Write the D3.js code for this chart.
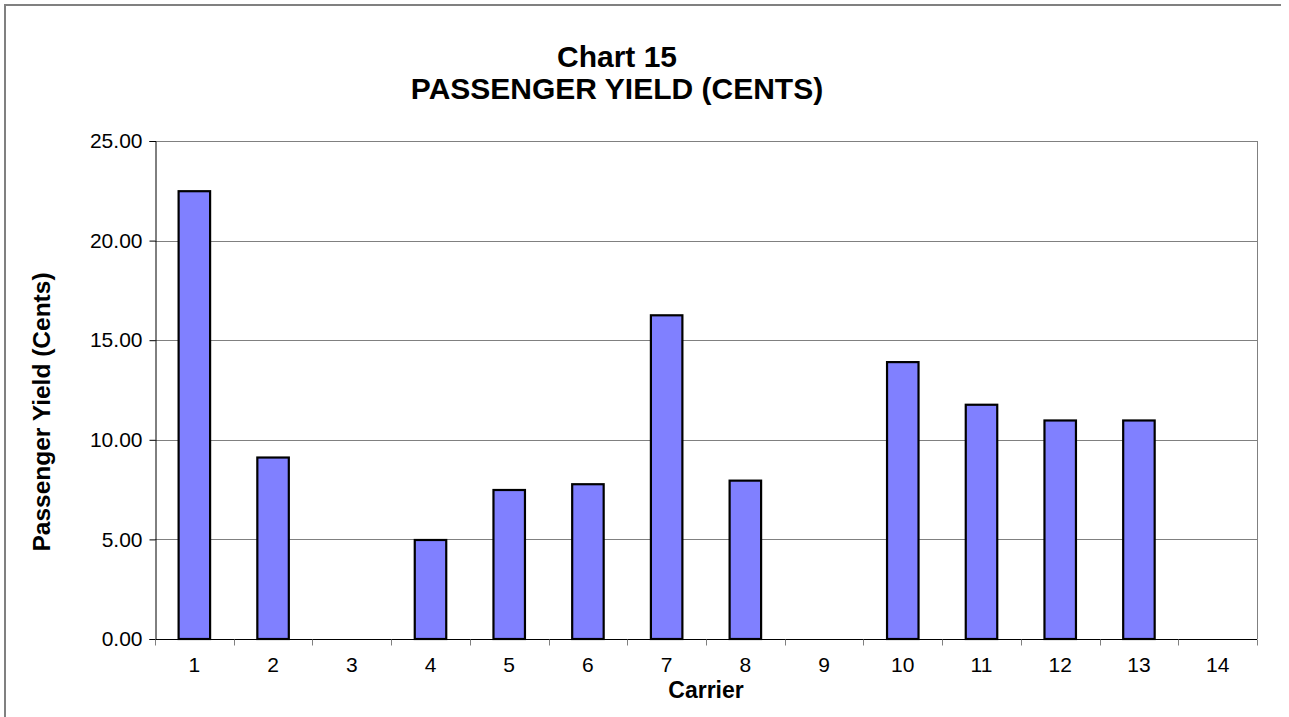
<!DOCTYPE html>
<html>
<head>
<meta charset="utf-8">
<script src="https://cdn.jsdelivr.net/npm/d3@7"></script>
<style>
  html, body { margin: 0; padding: 0; background: #fff; }
  svg { display: block; font-family: "Liberation Sans", Arial, sans-serif; }
</style>
</head>
<body>
<svg id="chart" width="1289" height="717"></svg>
<script>
const carriers = ["1","2","3","4","5","6","7","8","9","10","11","12","13","14"];
const yieldValues = [22.48, 9.11, null, 4.97, 7.48, 7.77, 16.25, 7.95, null, 13.90, 11.76, 10.97, 10.97, null];
const yTicks = [0, 5, 10, 15, 20, 25];
const titleLines = ["Chart 15", "PASSENGER YIELD (CENTS)"];

const svg = d3.select("#chart");
const W = 1289, H = 717;
const plot = { left: 155, right: 1257, top: 141, bottom: 639 };

// outer frame (top and left edges visible)
svg.append("line").attr("x1", 4).attr("y1", 5).attr("x2", 1281).attr("y2", 5)
  .attr("stroke", "#808080").attr("stroke-width", 2);
svg.append("line").attr("x1", 5).attr("y1", 4).attr("x2", 5).attr("y2", H)
  .attr("stroke", "#808080").attr("stroke-width", 2);

const xb = d3.scaleBand().domain(carriers).range([plot.left, plot.right]);
const y = d3.scaleLinear().domain([0, 25]).range([plot.bottom, plot.top]);

// gridlines
svg.append("g").selectAll("line").data(yTicks.filter(d => d > 0)).join("line")
  .attr("x1", plot.left).attr("x2", plot.right)
  .attr("y1", d => Math.round(y(d)) + 0.5).attr("y2", d => Math.round(y(d)) + 0.5)
  .attr("stroke", "#808080").attr("stroke-width", 1);
// right edge of plot
svg.append("line").attr("x1", plot.right + 0.5).attr("x2", plot.right + 0.5)
  .attr("y1", plot.top).attr("y2", plot.bottom).attr("stroke", "#808080");

// bars
const barW = xb.bandwidth() * 0.4;
svg.append("g").selectAll("rect")
  .data(carriers.map((c, i) => ({ c, v: yieldValues[i] })).filter(d => d.v != null))
  .join("rect")
  .attr("x", d => xb(d.c) + (xb.bandwidth() - barW) / 2)
  .attr("width", barW)
  .attr("y", d => y(d.v))
  .attr("height", d => y(0) - y(d.v))
  .attr("fill", "#8080FF").attr("stroke", "#000").attr("stroke-width", 2.2);

// y axis
const yAxis = d3.axisLeft(y).tickValues(yTicks).tickFormat(d3.format(".2f")).tickSize(6).tickPadding(7);
const gy = svg.append("g").attr("transform", `translate(${plot.left + 0.5},0)`).call(yAxis);
gy.select(".domain").attr("stroke", "#000");
gy.selectAll(".tick line").attr("stroke", "#000");
gy.selectAll("text").attr("font-size", 21).attr("fill", "#000")
  .attr("font-family", "'Liberation Sans', Arial, sans-serif");

// x axis
const gx = svg.append("g").attr("transform", `translate(0,${plot.bottom + 0.5})`);
gx.append("line").attr("x1", plot.left).attr("x2", plot.right).attr("stroke", "#000");
const bounds = carriers.map(c => xb(c)).concat([plot.right]);
gx.selectAll("line.tk").data(bounds).join("line").attr("class", "tk")
  .attr("x1", d => Math.round(d) + 0.5).attr("x2", d => Math.round(d) + 0.5)
  .attr("y1", 0).attr("y2", 6).attr("stroke", "#808080");
gx.selectAll("text").data(carriers).join("text")
  .attr("x", d => xb(d) + xb.bandwidth() / 2).attr("y", 32)
  .attr("text-anchor", "middle").attr("font-size", 21).text(d => d);

// axis titles
svg.append("text").attr("x", (plot.left + plot.right) / 2).attr("y", 698)
  .attr("text-anchor", "middle").attr("font-size", 23).attr("font-weight", "bold").text("Carrier");
svg.append("text").attr("transform", `translate(50,412) rotate(-90)`)
  .attr("text-anchor", "middle").attr("font-size", 24.5).attr("font-weight", "bold").text("Passenger Yield (Cents)");

// title
svg.append("g").selectAll("text").data(titleLines).join("text")
  .attr("x", 617).attr("y", (d, i) => 67 + i * 32)
  .attr("text-anchor", "middle").attr("font-size", 30).attr("font-weight", "bold").text(d => d);
</script>
</body>
</html>
